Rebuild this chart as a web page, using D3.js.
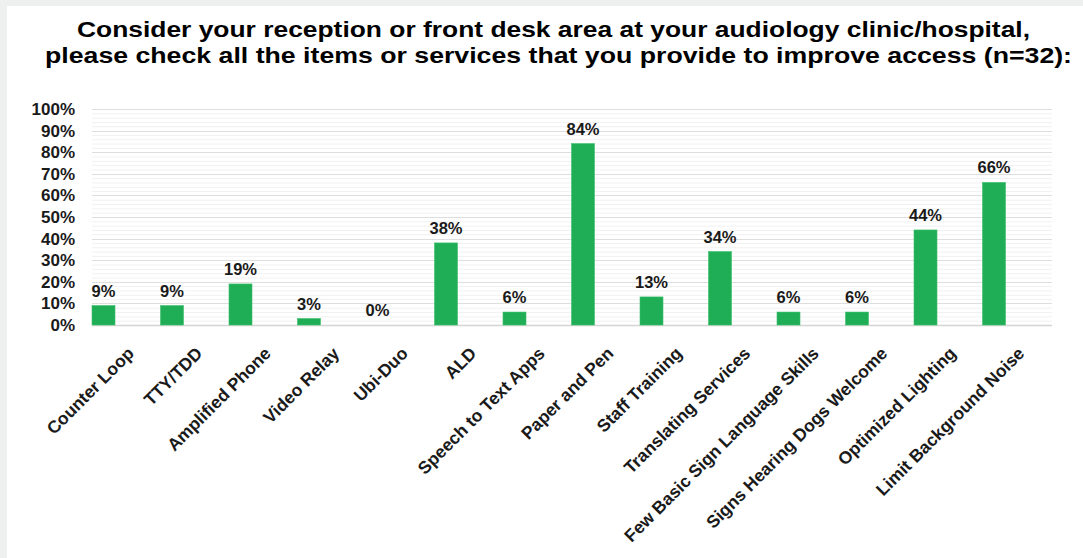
<!DOCTYPE html>
<html>
<head>
<meta charset="utf-8">
<script src="https://cdn.jsdelivr.net/npm/d3@7"></script>
<style>
  html, body { margin: 0; padding: 0; background: #fff; }
  svg { display: block; font-family: "Liberation Sans", Arial, Helvetica, sans-serif; }
</style>
</head>
<body>
<svg id="chart" width="1083" height="558"></svg>
<script>
// Survey items offered at the reception / front desk
const categories = [
  "Counter Loop", "TTY/TDD", "Amplified Phone", "Video Relay", "Ubi-Duo", "ALD",
  "Speech to Text Apps", "Paper and Pen", "Staff Training", "Translating Services",
  "Few Basic Sign Language Skills", "Signs Hearing Dogs Welcome",
  "Optimized Lighting", "Limit Background Noise"
];
// Share of respondents (percent)
const values = [9, 9, 19, 3, 0, 38, 6, 84, 13, 34, 6, 6, 44, 66];
// Y axis ticks (percent)
const yTicks = [0, 10, 20, 30, 40, 50, 60, 70, 80, 90, 100];
const titleLines = [
  "Consider your reception or front desk area at your audiology clinic/hospital,",
  "please check all the items or services that you provide to improve access (n=32):"
];

const svg = d3.select("#chart");
const W = 1083, H = 558;

// page frame
svg.append("rect").attr("width", W).attr("height", H).attr("fill", "#eef0ef");
svg.append("rect").attr("x", 7).attr("y", 6).attr("width", W - 7).attr("height", H - 6).attr("fill", "#ffffff");

const x = d3.scalePoint().domain(categories).range([69.25, 1028.25]).padding(0.5);
const y = d3.scaleLinear().domain([0, 100]).range([325, 109]);
const barW = 23;
const gridX0 = 92, gridX1 = 1052;

// minor gridlines
const minor = d3.range(0, 100, 2).filter(v => v % 10 !== 0);
svg.append("g").selectAll("line").data(minor).join("line")
  .attr("x1", gridX0).attr("x2", gridX1)
  .attr("y1", d => y(d) + 0.5).attr("y2", d => y(d) + 0.5)
  .attr("stroke", "#f1f1f1").attr("stroke-width", 1);

// major gridlines
svg.append("g").selectAll("line").data(yTicks).join("line")
  .attr("x1", gridX0).attr("x2", gridX1)
  .attr("y1", d => Math.round(y(d)) + 0.5).attr("y2", d => Math.round(y(d)) + 0.5)
  .attr("stroke", d => d === 0 ? "#d4d4d4" : "#dedede").attr("stroke-width", d => d === 0 ? 1.5 : 1);

// y axis labels
const yAxis = d3.axisLeft(y).tickValues(yTicks).tickFormat(d => d + "%").tickSize(0).tickPadding(0);
const gy = svg.append("g").attr("transform", "translate(75,0)").call(yAxis);
gy.select(".domain").remove();
gy.selectAll("text")
  .attr("font-size", 17).attr("font-weight", "bold").attr("fill", "#1a1a1a")
  .attr("font-family", "'Liberation Sans', Arial, sans-serif");

// bars
svg.append("g").selectAll("rect").data(values).join("rect")
  .attr("x", (d, i) => x(categories[i]) - barW / 2)
  .attr("width", barW)
  .attr("y", d => y(d))
  .attr("height", d => y(0) - y(d))
  .attr("fill", "#1fae55")
  .attr("stroke", "#3cc06c").attr("stroke-width", 0.6);

// value labels
svg.append("g").selectAll("text").data(values).join("text")
  .attr("x", (d, i) => x(categories[i]))
  .attr("y", d => y(d) - 9)
  .attr("text-anchor", "middle")
  .attr("font-size", 16.5).attr("font-weight", "bold").attr("fill", "#1a1a1a")
  .text(d => d + "%");

// category labels (rotated)
const xAxis = d3.axisBottom(x).tickSize(0).tickPadding(0);
const gx = svg.append("g").attr("transform", "translate(0,325)").call(xAxis);
gx.select(".domain").remove();
gx.selectAll("text")
  .attr("font-size", 17.5).attr("font-weight", "bold").attr("fill", "#1a1a1a")
  .attr("font-family", "'Liberation Sans', Arial, sans-serif")
  .attr("text-anchor", "end")
  .attr("dy", 0)
  .attr("y", 0)
  .attr("transform", "translate(31,29.5) rotate(-45)");

// title
const titleX = [553.5, 558.5];
const titleW = [953, 1027];
svg.append("g").selectAll("text").data(titleLines).join("text")
  .attr("x", (d, i) => titleX[i])
  .attr("y", (d, i) => 37 + i * 26)
  .attr("text-anchor", "middle")
  .attr("font-size", 22).attr("font-weight", "bold").attr("fill", "#000")
  .attr("textLength", (d, i) => titleW[i])
  .attr("lengthAdjust", "spacingAndGlyphs")
  .text(d => d);
</script>
</body>
</html>
